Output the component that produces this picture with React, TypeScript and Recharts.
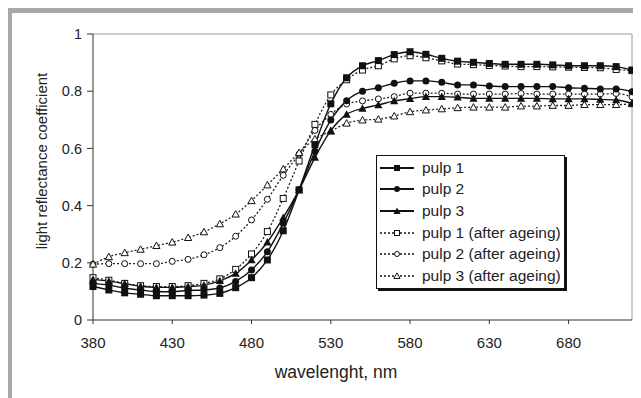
import { LineChart, Line, XAxis, YAxis, ReferenceLine, Legend } from 'recharts';

const FONT = '"Liberation Sans", Arial, sans-serif';

const WAVELENGTHS = [
  380, 390, 400, 410, 420, 430, 440, 450, 460, 470, 480, 490, 500, 510, 520, 530, 540, 550,
  560, 570, 580, 590, 600, 610, 620, 630, 640, 650, 660, 670, 680, 690, 700, 710, 720,
];

const PULP1 = [
  0.117, 0.105, 0.095, 0.09, 0.085, 0.085, 0.085, 0.087, 0.093, 0.113, 0.148, 0.21, 0.312, 0.455,
  0.613, 0.756, 0.847, 0.889, 0.907, 0.928, 0.938, 0.929, 0.915, 0.905, 0.901, 0.897, 0.894,
  0.894, 0.894, 0.892, 0.889, 0.889, 0.889, 0.886, 0.874,
];
const PULP2 = [
  0.128, 0.122, 0.111, 0.105, 0.099, 0.099, 0.103, 0.105, 0.112, 0.135, 0.175, 0.239, 0.338, 0.455,
  0.59, 0.699, 0.767, 0.8, 0.812, 0.828, 0.836, 0.836, 0.831, 0.822, 0.822, 0.818, 0.816, 0.816,
  0.816, 0.816, 0.812, 0.81, 0.808, 0.808, 0.798,
];
const PULP3 = [
  0.142, 0.136, 0.127, 0.118, 0.114, 0.114, 0.117, 0.122, 0.137, 0.163, 0.21, 0.272, 0.358, 0.455,
  0.568, 0.662, 0.719, 0.74, 0.752, 0.766, 0.774, 0.781, 0.781, 0.779, 0.775, 0.775, 0.775, 0.775,
  0.775, 0.773, 0.773, 0.773, 0.771, 0.769, 0.758,
];
const PULP1_AGED = [
  0.148, 0.139, 0.128, 0.12, 0.117, 0.117, 0.12, 0.128, 0.144, 0.177, 0.231, 0.309, 0.425, 0.556,
  0.684, 0.787, 0.84, 0.874, 0.889, 0.913, 0.924, 0.917, 0.906, 0.895, 0.893, 0.89, 0.888, 0.886,
  0.886, 0.885, 0.884, 0.883, 0.882, 0.876, 0.872,
];
const PULP2_AGED = [
  0.195, 0.197, 0.197, 0.197, 0.197, 0.205, 0.212, 0.228, 0.253, 0.293, 0.35, 0.422, 0.506, 0.58,
  0.663, 0.719, 0.755, 0.766, 0.773, 0.781, 0.793, 0.793, 0.793, 0.79, 0.79, 0.79, 0.79, 0.792,
  0.79, 0.79, 0.79, 0.79, 0.79, 0.792, 0.78,
];
const PULP3_AGED = [
  0.195, 0.221, 0.235, 0.247, 0.26, 0.272, 0.288, 0.308, 0.336, 0.37, 0.417, 0.472, 0.528, 0.585,
  0.633, 0.66, 0.688, 0.699, 0.702, 0.713, 0.728, 0.734, 0.738, 0.742, 0.744, 0.744, 0.744, 0.748,
  0.748, 0.75, 0.75, 0.753, 0.753, 0.753, 0.756,
];

const X_TICKS = [380, 430, 480, 530, 580, 630, 680];
const Y_TICKS = [0, 0.2, 0.4, 0.6, 0.8, 1];

type Shape = 'square' | 'circle' | 'triangle';

const SERIES: { key: string; name: string; shape: Shape; filled: boolean }[] = [
  { key: 'p1', name: 'pulp 1', shape: 'square', filled: true },
  { key: 'p2', name: 'pulp 2', shape: 'circle', filled: true },
  { key: 'p3', name: 'pulp 3', shape: 'triangle', filled: true },
  { key: 'p1a', name: 'pulp 1 (after ageing)', shape: 'square', filled: false },
  { key: 'p2a', name: 'pulp 2 (after ageing)', shape: 'circle', filled: false },
  { key: 'p3a', name: 'pulp 3 (after ageing)', shape: 'triangle', filled: false },
];

const data = WAVELENGTHS.map((wl, i) => ({
  wl,
  p1: PULP1[i],
  p2: PULP2[i],
  p3: PULP3[i],
  p1a: PULP1_AGED[i],
  p2a: PULP2_AGED[i],
  p3a: PULP3_AGED[i],
}));

function Marker({ cx, cy, shape, filled, s = 7 }: { cx: number; cy: number; shape: Shape; filled: boolean; s?: number }) {
  const fill = filled ? '#111' : '#fff';
  const sw = filled ? 0 : 1;
  const h = filled ? s / 2 : (s - 1) / 2;
  if (shape === 'square') {
    return <rect x={cx - h} y={cy - h} width={h * 2} height={h * 2} fill={fill} stroke="#111" strokeWidth={sw} />;
  }
  if (shape === 'circle') {
    return <circle cx={cx} cy={cy} r={h} fill={fill} stroke="#111" strokeWidth={sw} />;
  }
  const t = h + 0.6;
  return (
    <polygon
      points={`${cx},${cy - t} ${cx + t},${cy + t * 0.8} ${cx - t},${cy + t * 0.8}`}
      fill={fill}
      stroke="#111"
      strokeWidth={sw}
    />
  );
}

const makeDot = (shape: Shape, filled: boolean) => (props: any) => {
  const { cx, cy, index } = props;
  if (cx == null || cy == null) return <g key={index} />;
  return <Marker key={index} cx={cx} cy={cy} shape={shape} filled={filled} />;
};

function LegendBox() {
  return (
    <div
      style={{
        width: 189,
        boxSizing: 'border-box',
        border: '1px solid #111',
        boxShadow: '2px 2px 0 #111',
        background: '#fff',
        padding: '1px 0 1px 0',
        fontFamily: FONT,
        fontSize: 15.5,
        color: '#222',
      }}
    >
      {SERIES.map((s) => (
        <div key={s.key} style={{ display: 'flex', alignItems: 'center', height: 21.6, whiteSpace: 'nowrap' }}>
          <svg width={34} height={12} style={{ marginLeft: 3, marginRight: 8, flex: 'none' }}>
            <line
              x1={0}
              x2={34}
              y1={6}
              y2={6}
              stroke="#111"
              strokeWidth={s.filled ? 1.8 : 1.3}
              strokeDasharray={s.filled ? undefined : '2 2'}
            />
            <Marker cx={17} cy={6} shape={s.shape} filled={s.filled} s={6} />
          </svg>
          <span>{s.name}</span>
        </div>
      ))}
    </div>
  );
}

export default function App() {
  return (
    <div style={{ position: 'relative', width: 633, height: 390, background: '#fff', fontFamily: FONT }}>
      <div style={{ position: 'absolute', left: 0, top: 0, width: 633, height: 5, background: '#a8a8a8' }} />
      <div style={{ position: 'absolute', left: 0, top: 0, width: 4, height: 390, background: '#a8a8a8' }} />
      <LineChart width={633} height={390} data={data} margin={{ top: 26, right: 9, bottom: 0, left: 0 }}>
        <XAxis
          dataKey="wl"
          type="number"
          domain={[380, 720]}
          ticks={X_TICKS}
          height={78}
          tickSize={4}
          tickMargin={13}
          axisLine={{ stroke: '#333' }}
          tickLine={{ stroke: '#333' }}
          tick={{ fill: '#222', fontSize: 15, fontFamily: FONT }}
        />
        <YAxis
          domain={[0, 1]}
          ticks={Y_TICKS}
          width={85}
          tickSize={6}
          tickMargin={5}
          tickFormatter={(v: number) => String(Number(v.toFixed(1)))}
          axisLine={{ stroke: '#333' }}
          tickLine={{ stroke: '#333' }}
          tick={{ fill: '#222', fontSize: 14.5, fontFamily: FONT }}
        />
        <ReferenceLine y={1} stroke="#9a9a9a" />
        <ReferenceLine x={720} stroke="#9a9a9a" />
        {SERIES.filter((s) => !s.filled).map((s) => (
          <Line
            key={s.key}
            dataKey={s.key}
            name={s.name}
            type="monotone"
            stroke="#222"
            strokeWidth={1.3}
            strokeDasharray="2 2"
            dot={makeDot(s.shape, s.filled)}
            activeDot={false}
            isAnimationActive={false}
          />
        ))}
        {SERIES.filter((s) => s.filled).map((s) => (
          <Line
            key={s.key}
            dataKey={s.key}
            name={s.name}
            type="monotone"
            stroke="#111"
            strokeWidth={1.4}
            dot={makeDot(s.shape, s.filled)}
            activeDot={false}
            isAnimationActive={false}
          />
        ))}
        <Legend
          layout="vertical"
          align="center"
          verticalAlign="middle"
          content={() => <LegendBox />}
          wrapperStyle={{ left: 368, top: 147, width: 'auto', height: 'auto' }}
        />
      </LineChart>
      <div
        style={{
          position: 'absolute',
          left: 328,
          top: 364,
          transform: 'translate(-50%, -50%)',
          fontSize: 17.5,
          color: '#222',
          whiteSpace: 'nowrap',
        }}
      >
        wavelenght, nm
      </div>
      <div
        style={{
          position: 'absolute',
          left: 33,
          top: 153,
          transform: 'translate(-50%, -50%) rotate(-90deg)',
          fontSize: 15,
          color: '#222',
          whiteSpace: 'nowrap',
        }}
      >
        light reflectance coefficient
      </div>
    </div>
  );
}
